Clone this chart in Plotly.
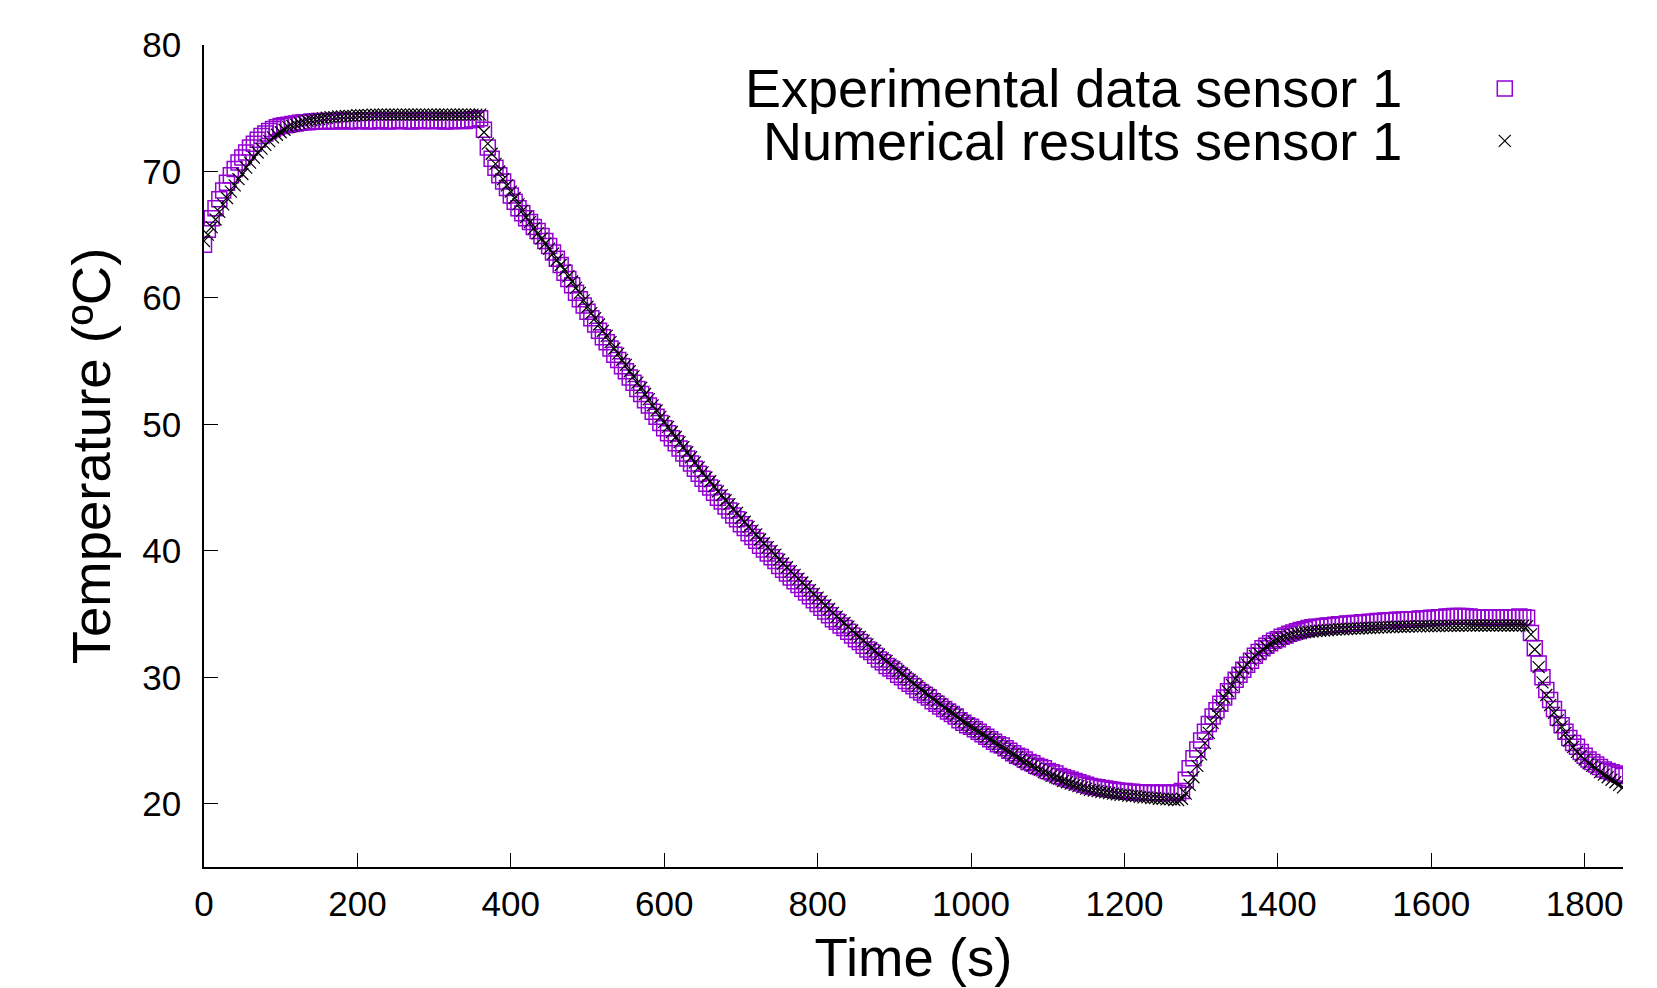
import plotly.graph_objects as go

# time axis (s), one sample every 5 s
time_s = list(range(0, 1855, 5))

exp_temp = [
    64.2, 65.4, 66.3, 67.1, 67.8, 68.5, 69.1, 69.7, 70.2, 70.7, 71.1, 71.5, 71.9, 72.2, 72.5, 72.8, 73.0, 73.2, 73.35, 73.5,
    73.6, 73.65, 73.7, 73.75, 73.8, 73.85, 73.9, 73.9, 73.95, 73.95, 74.0, 73.95, 74.0, 74.0, 73.95, 74.0, 74.05, 74.0, 73.95, 74.0,
    74.0, 74.05, 74.0, 73.95, 74.0, 74.0, 74.05, 74.0, 73.95, 74.0, 74.0, 74.05, 74.0, 74.0, 73.95, 74.0, 74.05, 74.0, 74.0, 74.0,
    74.0, 74.05, 74.0, 73.95, 74.0, 74.0, 74.05, 74.0, 74.0, 74.05, 74.1, 74.1, 74.2, 73.3, 71.9, 71.0, 70.3, 69.7, 69.2, 68.7,
    68.1, 67.6, 67.1, 66.7, 66.3, 66.0, 65.6, 65.3, 64.9, 64.5, 64.1, 63.6, 63.1, 62.6, 62.0, 61.5, 61.0, 60.4, 59.9, 59.4,
    58.9, 58.4, 57.9, 57.4, 56.9, 56.5, 56.0, 55.5, 55.1, 54.6, 54.2, 53.7, 53.3, 52.8, 52.4, 51.9, 51.5, 51.0, 50.6, 50.1,
    49.7, 49.3, 48.9, 48.5, 48.1, 47.7, 47.3, 46.9, 46.5, 46.1, 45.7, 45.3, 45.0, 44.6, 44.2, 43.9, 43.5, 43.2, 42.8, 42.5,
    42.1, 41.8, 41.4, 41.1, 40.8, 40.4, 40.1, 39.8, 39.5, 39.2, 38.8, 38.5, 38.2, 37.9, 37.6, 37.3, 37.0, 36.7, 36.4, 36.1,
    35.8, 35.5, 35.2, 34.9, 34.6, 34.4, 34.1, 33.9, 33.6, 33.3, 33.0, 32.8, 32.5, 32.2, 32.0, 31.7, 31.4, 31.2, 30.9, 30.7,
    30.5, 30.2, 30.0, 29.7, 29.5, 29.3, 29.0, 28.8, 28.6, 28.4, 28.1, 27.9, 27.7, 27.5, 27.3, 27.1, 26.9, 26.6, 26.4, 26.2,
    26.1, 25.9, 25.7, 25.5, 25.3, 25.1, 24.9, 24.7, 24.6, 24.4, 24.2, 24.0, 23.8, 23.7, 23.5, 23.3, 23.2, 23.0, 22.9, 22.8,
    22.6, 22.5, 22.4, 22.2, 22.1, 22.0, 21.9, 21.8, 21.7, 21.6, 21.5, 21.4, 21.35, 21.3, 21.25, 21.2, 21.15, 21.1, 21.05, 21.0,
    21.0, 20.95, 20.95, 20.9, 20.9, 20.9, 20.85, 20.9, 20.85, 20.85, 20.9, 20.85, 20.85, 20.9, 20.85, 21.0, 21.9, 22.8, 23.6, 24.3,
    25.0, 25.7, 26.3, 26.9, 27.4, 27.9, 28.4, 28.9, 29.4, 29.8, 30.2, 30.6, 31.0, 31.3, 31.7, 32.0, 32.3, 32.5, 32.7, 32.9,
    33.0, 33.2, 33.3, 33.45, 33.55, 33.65, 33.75, 33.8, 33.9, 33.95, 34.0, 34.0, 34.05, 34.1, 34.1, 34.15, 34.2, 34.2, 34.25, 34.25,
    34.3, 34.3, 34.35, 34.35, 34.4, 34.4, 34.45, 34.45, 34.5, 34.5, 34.5, 34.55, 34.55, 34.55, 34.6, 34.6, 34.6, 34.65, 34.65, 34.65,
    34.7, 34.7, 34.75, 34.75, 34.8, 34.8, 34.85, 34.85, 34.85, 34.8, 34.8, 34.75, 34.75, 34.75, 34.7, 34.7, 34.7, 34.7, 34.75, 34.7,
    34.7, 34.75, 34.75, 34.8, 34.75, 34.7, 33.5, 32.3, 31.1, 30.0, 29.0, 28.2, 27.5, 26.8, 26.2, 25.7, 25.2, 24.8, 24.5, 24.1,
    23.8, 23.5, 23.3, 23.1, 22.9, 22.7, 22.6, 22.5, 22.4, 22.3, 22.2,
]

# Numerical results sensor 1 (ºC)
num_temp = [
    64.5, 65.0, 65.6, 66.2, 66.8, 67.4, 67.9, 68.4, 68.9, 69.4, 69.8, 70.3, 70.7, 71.1, 71.5, 71.8, 72.1, 72.4, 72.7, 72.9,
    73.1, 73.3, 73.5, 73.6, 73.7, 73.8, 73.9, 74.0, 74.05, 74.1, 74.15, 74.2, 74.25, 74.3, 74.3, 74.35, 74.35, 74.4, 74.4, 74.4,
    74.45, 74.45, 74.45, 74.45, 74.5, 74.5, 74.5, 74.5, 74.5, 74.5, 74.5, 74.5, 74.5, 74.5, 74.5, 74.5, 74.5, 74.5, 74.5, 74.5,
    74.5, 74.5, 74.5, 74.5, 74.5, 74.5, 74.5, 74.5, 74.5, 74.5, 74.5, 74.5, 74.5, 73.1, 72.2, 71.4, 70.6, 70.0, 69.4, 68.9,
    68.4, 67.9, 67.4, 66.9, 66.4, 66.0, 65.5, 65.1, 64.7, 64.3, 63.9, 63.5, 63.0, 62.6, 62.2, 61.7, 61.3, 60.8, 60.4, 59.8,
    59.3, 58.8, 58.4, 57.9, 57.4, 57.0, 56.5, 56.0, 55.6, 55.1, 54.7, 54.2, 53.8, 53.3, 52.9, 52.4, 52.0, 51.5, 51.1, 50.6,
    50.2, 49.8, 49.4, 49.0, 48.6, 48.2, 47.8, 47.4, 47.0, 46.6, 46.2, 45.8, 45.5, 45.1, 44.7, 44.4, 44.0, 43.7, 43.3, 43.0,
    42.6, 42.3, 41.9, 41.6, 41.3, 40.9, 40.6, 40.3, 40.0, 39.7, 39.3, 39.0, 38.7, 38.4, 38.1, 37.8, 37.5, 37.2, 36.9, 36.6,
    36.3, 36.0, 35.7, 35.4, 35.1, 34.8, 34.5, 34.3, 34.0, 33.7, 33.4, 33.2, 32.9, 32.6, 32.3, 32.1, 31.8, 31.5, 31.3, 31.0,
    30.8, 30.5, 30.3, 30.0, 29.8, 29.5, 29.3, 29.0, 28.8, 28.6, 28.3, 28.1, 27.9, 27.6, 27.4, 27.2, 27.0, 26.7, 26.5, 26.3,
    26.1, 25.9, 25.7, 25.5, 25.3, 25.1, 24.9, 24.7, 24.5, 24.3, 24.1, 23.9, 23.7, 23.5, 23.3, 23.2, 23.0, 22.8, 22.7, 22.5,
    22.4, 22.2, 22.1, 22.0, 21.8, 21.7, 21.6, 21.5, 21.4, 21.3, 21.2, 21.1, 21.05, 21.0, 20.95, 20.9, 20.85, 20.8, 20.75, 20.7,
    20.7, 20.65, 20.6, 20.6, 20.55, 20.5, 20.5, 20.45, 20.45, 20.4, 20.4, 20.35, 20.35, 20.3, 20.3, 20.4, 20.8, 21.5, 22.1, 23.0,
    23.9, 24.8, 25.6, 26.4, 27.1, 27.8, 28.4, 28.9, 29.4, 29.9, 30.3, 30.7, 31.0, 31.4, 31.7, 31.9, 32.2, 32.4, 32.6, 32.8,
    32.95, 33.1, 33.2, 33.3, 33.4, 33.45, 33.5, 33.55, 33.6, 33.62, 33.65, 33.68, 33.7, 33.72, 33.75, 33.77, 33.8, 33.8, 33.82, 33.84,
    33.85, 33.86, 33.88, 33.9, 33.9, 33.92, 33.93, 33.95, 33.95, 33.97, 33.98, 34.0, 34.0, 34.0, 34.02, 34.03, 34.03, 34.04, 34.05, 34.05,
    34.05, 34.06, 34.06, 34.07, 34.07, 34.08, 34.08, 34.08, 34.09, 34.09, 34.1, 34.1, 34.1, 34.1, 34.1, 34.1, 34.1, 34.1, 34.1, 34.1,
    34.1, 34.1, 34.1, 34.1, 34.1, 34.05, 33.4, 32.2, 30.8, 29.6, 28.6, 27.8, 27.2, 26.6, 26.1, 25.6, 25.0, 24.5, 24.1, 23.8,
    23.5, 23.2, 23.0, 22.8, 22.5, 22.3, 22.1, 21.9, 21.7, 21.5, 21.3,
]

legend_labels = ["Experimental data sensor 1", "Numerical results sensor 1"]
x_ticks = [0, 200, 400, 600, 800, 1000, 1200, 1400, 1600, 1800]
y_ticks = [20, 30, 40, 50, 60, 70, 80]

FONT = "Liberation Sans, Arial, Helvetica, sans-serif"

fig = go.Figure()

fig.add_trace(go.Scatter(
    x=time_s, y=exp_temp, mode="markers", name=" ",
    marker=dict(symbol="square-open", size=15, color="#9400D3",
                line=dict(width=1.5, color="#9400D3")),
))
fig.add_trace(go.Scatter(
    x=time_s, y=num_temp, mode="markers", name=" ",
    marker=dict(symbol="x-thin-open", size=12, color="black",
                line=dict(width=1.2, color="black")),
))

# legend text, right aligned like gnuplot's key
for label, ypos in zip(legend_labels, [0.948, 0.883]):
    fig.add_annotation(text=label, xref="paper", yref="paper",
                       x=0.846, y=ypos, xanchor="right", yanchor="middle",
                       height=52, valign="middle", showarrow=False,
                       font=dict(size=54, color="black", family=FONT))

# the page adds an 8 px body margin, so the figure is 8 px smaller
fig.update_layout(
    width=1649, height=980,
    margin=dict(l=196, r=34, t=37, b=121),
    plot_bgcolor="white", paper_bgcolor="white",
    font=dict(family=FONT, color="black"),
    legend=dict(x=0.9026, y=0.985, xanchor="left", yanchor="top",
                font=dict(size=38), bgcolor="rgba(0,0,0,0)"),
    xaxis=dict(
        range=[0, 1850], tickvals=x_ticks, ticks="inside", ticklen=14,
        tickwidth=1.2, tickcolor="black", showline=True, linecolor="black",
        linewidth=1.5, showgrid=False, zeroline=False, automargin=False,
        tickfont=dict(size=35), ticklabelstandoff=5,
        title=dict(text="Time (s)", font=dict(size=54.5), standoff=16),
    ),
    yaxis=dict(
        range=[15, 80], tickvals=y_ticks, ticks="inside", ticklen=14,
        tickwidth=1.2, tickcolor="black", showline=True, linecolor="black",
        linewidth=1.5, showgrid=False, zeroline=False, automargin=False,
        tickfont=dict(size=35), ticklabelstandoff=14,
        title=dict(text="Temperature (ºC)", font=dict(size=54.5), standoff=14),
    ),
)

fig.write_html("out.html")
